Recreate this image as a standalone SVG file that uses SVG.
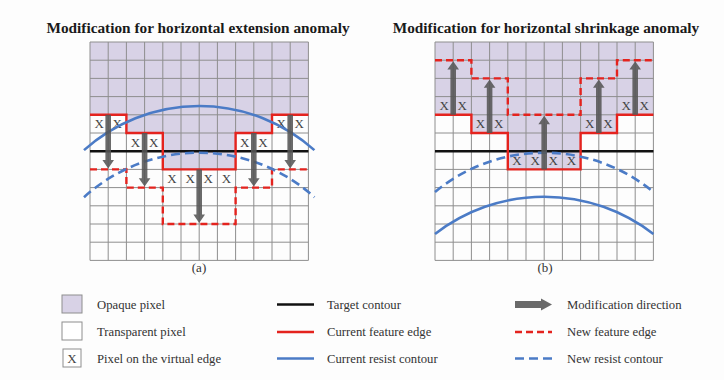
<svg xmlns="http://www.w3.org/2000/svg" xmlns:xlink="http://www.w3.org/1999/xlink" width="724" height="380" viewBox="0 0 724 380">
<style>
.bg{fill:#fdfdfd}
.title{font-family:"Liberation Serif","Times New Roman",serif;font-weight:bold;font-size:15.3px;fill:#1a1a1a;text-anchor:middle}
.lab{font-family:"Liberation Serif","Times New Roman",serif;font-size:12.7px;fill:#333}
.cap{font-family:"Liberation Serif","Times New Roman",serif;font-size:13px;fill:#333;text-anchor:middle}
.x{font-family:"Liberation Serif","Times New Roman",serif;font-size:13px;fill:#444;text-anchor:middle}
.opq{fill:#d8d2e6}
.gl{fill:none;stroke:#8e8e8e;stroke-width:1}
.tgt{fill:none;stroke:#111;stroke-width:2.6}
.red{fill:none;stroke:#e4231e;stroke-width:2.4}
.redd{fill:none;stroke:#e4231e;stroke-width:2.4;stroke-dasharray:7,4}
.blu{fill:none;stroke:#4b7bc6;stroke-width:2.6}
.blud{fill:none;stroke:#4b7bc6;stroke-width:2.6;stroke-dasharray:9,5}
.arr{fill:#555;fill-opacity:0.88}
.sw{stroke:#8e8e8e;stroke-width:1}
</style>
<defs>
<path id="gridlines" class="gl" d="M0,0V218.4M18.2,0V218.4M36.4,0V218.4M54.6,0V218.4M72.8,0V218.4M91,0V218.4M109.2,0V218.4M127.4,0V218.4M145.6,0V218.4M163.8,0V218.4M182,0V218.4M200.2,0V218.4M218.4,0V218.4M0,0H218.4M0,18.2H218.4M0,36.4H218.4M0,54.6H218.4M0,72.8H218.4M0,91H218.4M0,109.2H218.4M0,127.4H218.4M0,145.6H218.4M0,163.8H218.4M0,182H218.4M0,200.2H218.4M0,218.4H218.4"/>
<polygon id="opaque" class="opq" points="0,0 218.4,0 218.4,72.8 182,72.8 182,91 145.6,91 145.6,127.4 72.8,127.4 72.8,91 36.4,91 36.4,72.8 0,72.8"/>
</defs>
<rect class="bg" x="0" y="0" width="724" height="380"/>

<text class="title" x="198" y="33">Modification for horizontal extension anomaly</text>
<text class="title" x="546" y="33">Modification for horizontal shrinkage anomaly</text>

<!-- Panel (a) -->
<g id="panel-a" transform="translate(90,42)">
  <use xlink:href="#opaque"/>
  <use xlink:href="#gridlines"/>
  <g id="a-virtual-pixels">
    <text class="x" x="9.1" y="86.3">X</text><text class="x" x="27.3" y="86.3">X</text>
    <text class="x" x="191.1" y="86.3">X</text><text class="x" x="209.3" y="86.3">X</text>
    <text class="x" x="45.5" y="104.5">X</text><text class="x" x="63.7" y="104.5">X</text>
    <text class="x" x="154.7" y="104.5">X</text><text class="x" x="172.9" y="104.5">X</text>
    <text class="x" x="81.9" y="140.9">X</text><text class="x" x="100.1" y="140.9">X</text>
    <text class="x" x="118.3" y="140.9">X</text><text class="x" x="136.5" y="140.9">X</text>
  </g>
  <g id="a-connectors">
    <path class="tgt" d="M0,109.2H218.4"/>
    <path class="red" d="M0,72.8H36.4V91H72.8V127.4H145.6V91H182V72.8H218.4"/>
    <path class="redd" d="M0,127.4H36.4V145.6H72.8V182H145.6V145.6H182V127.4H218.4"/>
    <path class="blu" d="M-6,108.1A172.4,172.4 0 0 1 224.4,108.1"/>
    <path class="blud" d="M-6,155.2A171.4,171.4 0 0 1 224.4,155.2"/>
    <polygon class="arr" points="15.4,72.8 21,72.8 21,118 24,118 18.2,126.4 12.4,118 15.4,118"/>
    <polygon class="arr" points="51.8,91 57.4,91 57.4,136.2 60.4,136.2 54.6,144.6 48.8,136.2 51.8,136.2"/>
    <polygon class="arr" points="106.4,127.4 112,127.4 112,172.6 115,172.6 109.2,181 103.4,172.6 106.4,172.6"/>
    <polygon class="arr" points="161,91 166.6,91 166.6,136.2 169.6,136.2 163.8,144.6 158,136.2 161,136.2"/>
    <polygon class="arr" points="197.4,72.8 203,72.8 203,118 206,118 200.2,126.4 194.4,118 197.4,118"/>
  </g>
</g>
<text class="cap" x="199" y="272">(a)</text>

<!-- Panel (b) -->
<g id="panel-b" transform="translate(435,42)">
  <use xlink:href="#opaque"/>
  <use xlink:href="#gridlines"/>
  <g id="b-virtual-pixels">
    <text class="x" x="9.1" y="68.1">X</text><text class="x" x="27.3" y="68.1">X</text>
    <text class="x" x="191.1" y="68.1">X</text><text class="x" x="209.3" y="68.1">X</text>
    <text class="x" x="45.5" y="86.3">X</text><text class="x" x="63.7" y="86.3">X</text>
    <text class="x" x="154.7" y="86.3">X</text><text class="x" x="172.9" y="86.3">X</text>
    <text class="x" x="81.9" y="122.7">X</text><text class="x" x="100.1" y="122.7">X</text>
    <text class="x" x="118.3" y="122.7">X</text><text class="x" x="136.5" y="122.7">X</text>
  </g>
  <g id="b-connectors">
    <path class="tgt" d="M0,109.2H218.4"/>
    <path class="red" d="M0,72.8H36.4V91H72.8V127.4H145.6V91H182V72.8H218.4"/>
    <path class="redd" d="M0,18.2H36.4V36.4H72.8V72.8H145.6V36.4H182V18.2H218.4"/>
    <path class="blud" d="M0,150A171.4,171.4 0 0 1 218.4,150"/>
    <path class="blu" d="M0,192A178.5,178.5 0 0 1 218.4,192"/>
    <polygon class="arr" points="15.4,72.8 21,72.8 21,27.6 24,27.6 18.2,19.2 12.4,27.6 15.4,27.6"/>
    <polygon class="arr" points="51.8,91 57.4,91 57.4,45.8 60.4,45.8 54.6,37.4 48.8,45.8 51.8,45.8"/>
    <polygon class="arr" points="106.4,127.4 112,127.4 112,82.2 115,82.2 109.2,73.8 103.4,82.2 106.4,82.2"/>
    <polygon class="arr" points="161,91 166.6,91 166.6,45.8 169.6,45.8 163.8,37.4 158,45.8 161,45.8"/>
    <polygon class="arr" points="197.4,72.8 203,72.8 203,27.6 206,27.6 200.2,19.2 194.4,27.6 197.4,27.6"/>
  </g>
</g>
<text class="cap" x="545" y="272">(b)</text>

<!-- Legend -->
<g id="legend">
  <g id="leg-opaque"><rect class="opq sw" x="62" y="295" width="20" height="18"/><text class="lab" x="97" y="308.5">Opaque pixel</text></g>
  <g id="leg-transparent"><rect class="sw" fill="#ffffff" x="62" y="322" width="20" height="18"/><text class="lab" x="97" y="335.5">Transparent pixel</text></g>
  <g id="leg-virtual"><rect class="sw" fill="#ffffff" x="63" y="349" width="18" height="18"/><text class="x" x="72" y="362.8">X</text><text class="lab" x="97" y="362.5">Pixel on the virtual edge</text></g>
  <g id="leg-target"><path class="tgt" d="M277,304.5H314"/><text class="lab" x="327" y="308.5">Target contour</text></g>
  <g id="leg-cur-edge"><path class="red" d="M277,332H314"/><text class="lab" x="327" y="335.5">Current feature edge</text></g>
  <g id="leg-cur-resist"><path class="blu" d="M277,358.5H314"/><text class="lab" x="327" y="362.5">Current resist contour</text></g>
  <g id="leg-dir"><polygon class="arr" points="515,301 541,301 541,298.5 552,304.5 541,310.5 541,308 515,308"/><text class="lab" x="567" y="308.5">Modification direction</text></g>
  <g id="leg-new-edge"><path class="redd" d="M515,332H552"/><text class="lab" x="567" y="335.5">New feature edge</text></g>
  <g id="leg-new-resist"><path class="blud" d="M515,358.5H552"/><text class="lab" x="567" y="362.5">New resist contour</text></g>
</g>
</svg>
